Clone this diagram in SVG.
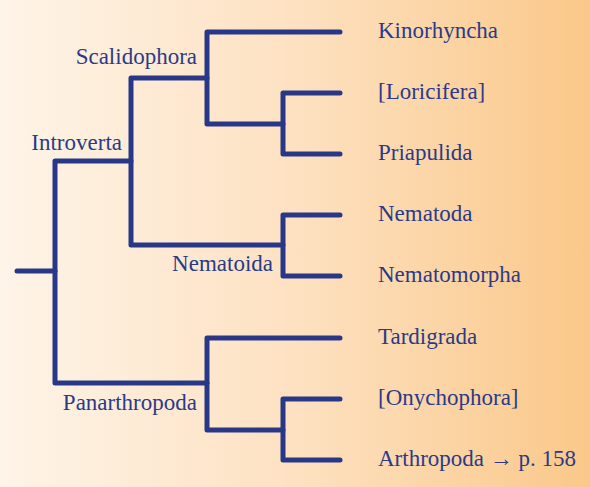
<svg xmlns="http://www.w3.org/2000/svg" width="590" height="487" viewBox="0 0 590 487">
<defs>
<linearGradient id="bg" x1="0" y1="0" x2="1" y2="0">
<stop offset="0" stop-color="#fef4e8"/>
<stop offset="0.5" stop-color="#fde1c1"/>
<stop offset="1" stop-color="#fac889"/>
</linearGradient>
<style>
.e{fill:none;stroke:#283887;stroke-width:5;stroke-linecap:round;stroke-linejoin:round}
text{font-family:"Liberation Serif","DejaVu Serif",serif;font-size:23px;fill:#2b3a88}
.r{text-anchor:end}
</style>
</defs>
<rect width="590" height="487" fill="url(#bg)"/>
<g id="connectors">
<path class="e" d="M17,271 H55"/>
<path class="e" d="M131,161 H55 V383 H207"/>
<path class="e" d="M207,78 H131 V245 H283"/>
<path class="e" d="M340,32 H207 V124 H283"/>
<path class="e" d="M340,93 H283 V154 H340"/>
<path class="e" d="M340,215 H283 V276 H340"/>
<path class="e" d="M340,338 H207 V430 H283"/>
<path class="e" d="M340,399 H283 V460 H340"/>
</g>
<g id="Introverta"><text class="r" x="122" y="150">Introverta</text></g>
<g id="Scalidophora"><text class="r" x="197" y="64">Scalidophora</text></g>
<g id="Nematoida"><text class="r" x="273" y="271">Nematoida</text></g>
<g id="Panarthropoda"><text class="r" x="197" y="410">Panarthropoda</text></g>
<g id="Kinorhyncha"><text x="378" y="38">Kinorhyncha</text></g>
<g id="Loricifera"><text x="378" y="99">[Loricifera]</text></g>
<g id="Priapulida"><text x="378" y="160">Priapulida</text></g>
<g id="Nematoda"><text x="378" y="221">Nematoda</text></g>
<g id="Nematomorpha"><text x="378" y="282">Nematomorpha</text></g>
<g id="Tardigrada"><text x="378" y="344">Tardigrada</text></g>
<g id="Onychophora"><text x="378" y="405">[Onychophora]</text></g>
<g id="Arthropoda"><text x="378" y="466">Arthropoda → p. 158</text></g>
</svg>
